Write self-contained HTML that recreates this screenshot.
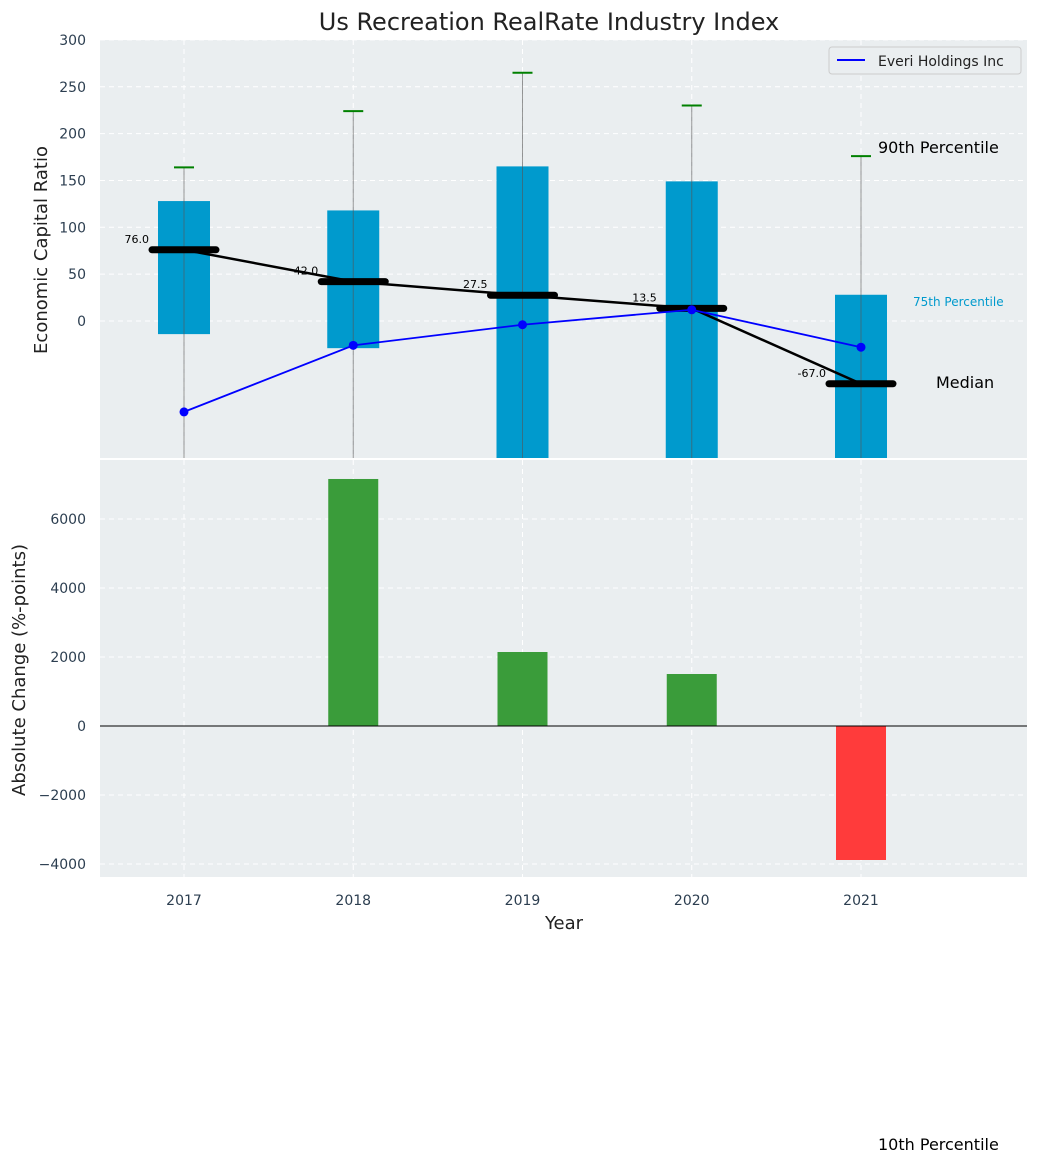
<!DOCTYPE html>
<html><head><meta charset="utf-8"><style>
body{margin:0;background:#fff;}
svg text{font-family:"DejaVu Sans","Liberation Sans",sans-serif;}
</style></head><body>
<svg id="c" width="1039" height="1163" xmlns="http://www.w3.org/2000/svg"></svg>
<script>
const years=["2017","2018","2019","2020","2021"];
const p90=[164,224,265,230,176];
const p75=[128,118,165,149,28];
const p25=[-14,-29,-160,-160,-160];
const medians=[76,42,27.5,13.5,-67];
const company=[-97,-26,-4,12,-28];
const changes=[0,7160,2145,1507,-3884];
const topTicks=[0,50,100,150,200,250,300];
const botTicks=[-4000,-2000,0,2000,4000,6000];

const NS="http://www.w3.org/2000/svg";
const svg=document.getElementById('c');
function el(t,a,parent){const e=document.createElementNS(NS,t);for(const k in a)e.setAttribute(k,a[k]);(parent||svg).appendChild(e);return e;}
const L=100,R=1027;
const x=i=>184+i*169.25;
const yT=v=>321-v*0.937;
const yB=v=>726-v*0.0345;
const T0=40,T1=458,B0=460,B1=877;

// backgrounds
let bg=el('rect',{x:L,y:T0,width:R-L,height:T1-T0,fill:'#eaeef0'});


let bg2=el('rect',{x:L,y:B0,width:R-L,height:B1-B0,fill:'#eaeef0'});



// grids
years.forEach((yr,i)=>{
  el('line',{x1:x(i),x2:x(i),y1:T0,y2:T1,stroke:'#fff','stroke-dasharray':'5,4','stroke-width':1});
  el('line',{x1:x(i),x2:x(i),y1:B0,y2:B1,stroke:'#fff','stroke-dasharray':'5,4','stroke-width':1});
  const t=el('text',{x:x(i),y:905,'text-anchor':'middle','font-size':14,fill:'#2c3e50'});t.textContent=yr;
  
  
});
topTicks.forEach(v=>{
  el('line',{x1:L,x2:R,y1:yT(v),y2:yT(v),stroke:'#fff','stroke-dasharray':'5,4'});
  const t=el('text',{x:86,y:yT(v)+5,'text-anchor':'end','font-size':14,fill:'#2c3e50'});t.textContent=v;
  
  
});
botTicks.forEach(v=>{
  el('line',{x1:L,x2:R,y1:yB(v),y2:yB(v),stroke:'#fff','stroke-dasharray':'5,4'});
  const t=el('text',{x:86,y:yB(v)+5,'text-anchor':'end','font-size':14,fill:'#2c3e50'});t.textContent=(v<0?'\u2212'+(-v):v);
  
  
});

// top panel clip
const cp=el('clipPath',{id:'tc'});el('rect',{x:L,y:T0,width:R-L,height:T1-T0},cp);
const g=el('g',{'clip-path':'url(#tc)'});
years.forEach((yr,i)=>{
  const b=el('rect',{x:x(i)-26,y:yT(p75[i]),width:52,height:yT(p25[i])-yT(p75[i]),fill:'#009acd'},g);
  
  
  el('line',{x1:x(i),x2:x(i),y1:yT(p90[i]),y2:T1,stroke:'#555','stroke-opacity':0.6,'stroke-width':1},g);
  const w=el('line',{x1:x(i)-10,x2:x(i)+10,y1:yT(p90[i]),y2:yT(p90[i]),stroke:'green','stroke-width':2},g);
  
  
});
let mp=medians.map((v,i)=>x(i)+','+yT(v)).join(' ');
el('polyline',{points:mp,fill:'none',stroke:'#000','stroke-width':2.5},g);
medians.forEach((v,i)=>{
  const m=el('line',{x1:x(i)-32,x2:x(i)+32,y1:yT(v),y2:yT(v),stroke:'#000','stroke-width':7,'stroke-linecap':'round'},g);
  
  
  const t=el('text',{x:x(i)-35,y:yT(v)-7,'text-anchor':'end','font-size':11,fill:'#000'},g);t.textContent=v.toFixed(1);
  
  
});
el('polyline',{points:company.map((v,i)=>x(i)+','+yT(v)).join(' '),fill:'none',stroke:'#0000ff','stroke-width':1.8},g);
company.forEach((v,i)=>{
  const c=el('circle',{cx:x(i),cy:yT(v),r:4.5,fill:'#0000ff'},g);
  
  
});

// bottom bars
years.forEach((yr,i)=>{
  const v=changes[i];if(v===0)return;
  const r=el('rect',{x:x(i)-25,y:Math.min(yB(v),yB(0)),width:50,height:Math.abs(yB(v)-yB(0)),fill:v>0?'#3a9c3a':'#ff3b3b'});
  
  
});
el('line',{x1:L,x2:R,y1:yB(0),y2:yB(0),stroke:'#000','stroke-width':1});

// labels
function txt(s,a,name){const t=el('text',a);t.textContent=s;return t;}
txt('Us Recreation RealRate Industry Index',{x:549,y:30,'text-anchor':'middle','font-size':24,fill:'#222'},'chart-title');
txt('Economic Capital Ratio',{x:47,y:250,'text-anchor':'middle','font-size':18,fill:'#222',transform:'rotate(-90 47 250)'},'top-y-axis-title');
txt('Absolute Change (%-points)',{x:25,y:670,'text-anchor':'middle','font-size':18,fill:'#222',transform:'rotate(-90 25 670)'},'bottom-y-axis-title');
txt('Year',{x:564,y:929,'text-anchor':'middle','font-size':18,fill:'#222'},'x-axis-title');
txt('90th Percentile',{x:878,y:153,'font-size':16,fill:'#000'},'p90-label');
txt('75th Percentile',{x:913,y:306,'font-size':12,fill:'#009acd'},'p75-label');
txt('Median',{x:936,y:388,'font-size':16,fill:'#000'},'median-label-text');
txt('10th Percentile',{x:878,y:1150,'font-size':16,fill:'#000'},'p10-label');

// legend
const lg=el('g',{});


el('rect',{x:829,y:47,width:192,height:27,fill:'#eaeef0',stroke:'#ccc',rx:3},lg);
el('line',{x1:837,x2:865,y1:60,y2:60,stroke:'#0000ff','stroke-width':2},lg);
const lt=el('text',{x:878,y:66,'font-size':14,fill:'#222'},lg);lt.textContent='Everi Holdings Inc';
</script>
</body></html>
